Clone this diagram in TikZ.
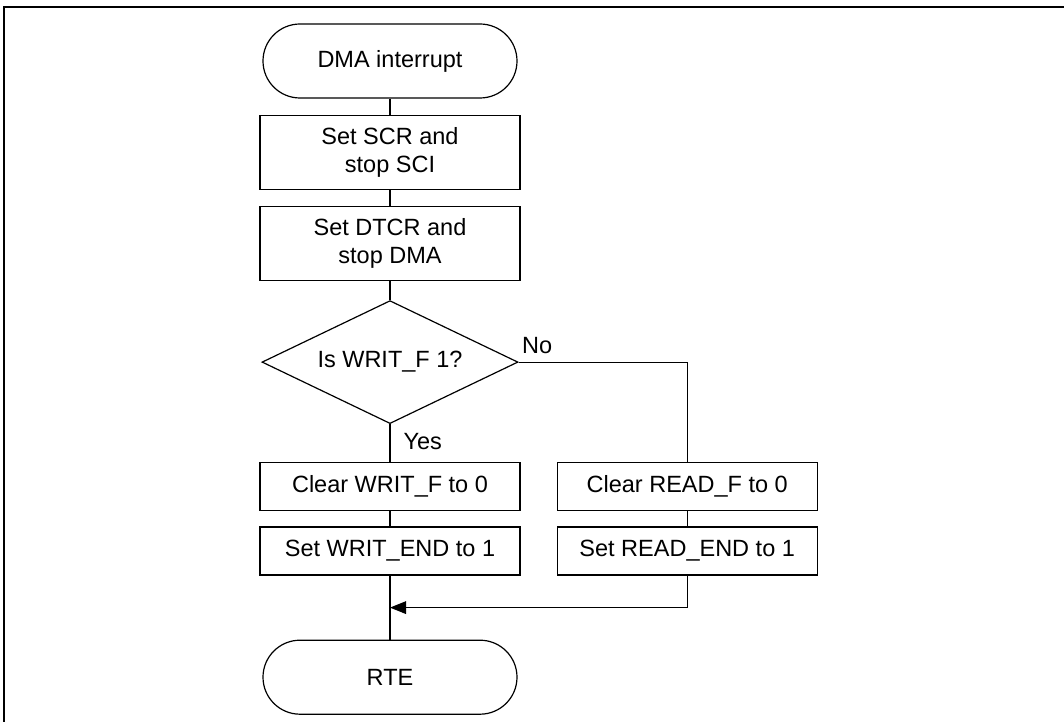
\documentclass[tikz,border=0pt]{standalone}
\usepackage{fontspec}
\setmainfont{Liberation Sans}
\usetikzlibrary{positioning,shapes.geometric,arrows.meta}
\begin{document}
\begin{tikzpicture}[
  line width=0.6pt,
  every node/.style={font=\fontsize{11.75}{14.2}\selectfont, align=center},
  terminal/.style={draw, rectangle, rounded corners=18.5pt, minimum width=127pt, minimum height=37pt},
  process/.style={draw, rectangle, minimum width=130pt, minimum height=37pt},
  flagbox/.style={draw, rectangle, minimum width=130pt, minimum height=24pt},
  decision/.style={draw, diamond, aspect=2, minimum width=128pt, minimum height=61.5pt, inner sep=0pt},
  answer/.style={inner sep=0pt, anchor=base west}
]
\useasboundingbox (-195pt,30.5pt) rectangle (337pt,-330.5pt);
% frame
\coordinate (frametr) at (337pt,27pt);
\coordinate (frametl) at (-193pt,27pt);
\coordinate (framebl) at (-193pt,-330.5pt);
\draw[line width=1pt] (frametr) -- (frametl) -- (framebl);

\node[terminal] (start) {DMA interrupt};
\node[process, below=8pt of start] (scr) {Set SCR and\\stop SCI};
\node[process, below=8pt of scr] (dtcr) {Set DTCR and\\stop DMA};
\node[decision, below=9.5pt of dtcr] (writf) {Is WRIT\_F 1?};
\node[flagbox, below=19pt of writf] (clrwrit) {Clear WRIT\_F to 0};
\node[flagbox, below=7.5pt of clrwrit] (setwrit) {Set WRIT\_END to 1};
\node[flagbox, right=18pt of clrwrit] (clrread) {Clear READ\_F to 0};
\node[flagbox, right=18pt of setwrit] (setread) {Set READ\_END to 1};
\node[terminal, below=32pt of setwrit] (rte) {RTE};
\coordinate[below=16pt of setwrit.south] (join);

\node[answer] (no) at ([xshift=1.5pt,yshift=4.5pt]writf.east) {No};
\node[answer] (yes) at ([xshift=6.5pt,yshift=-12.5pt]writf.south) {Yes};

\draw (start) -- (scr);
\draw (scr) -- (dtcr);
\draw (dtcr) -- (writf);
\draw (writf.south) -- (clrwrit.north);
\draw (writf.east) -| (clrread.north);
\draw (clrwrit) -- (setwrit);
\draw (clrread) -- (setread);
\draw (setwrit) -- (rte);
\draw[-{Triangle[length=8pt,width=6.3pt]}] (setread.south) |- (join);
\end{tikzpicture}
\end{document}
